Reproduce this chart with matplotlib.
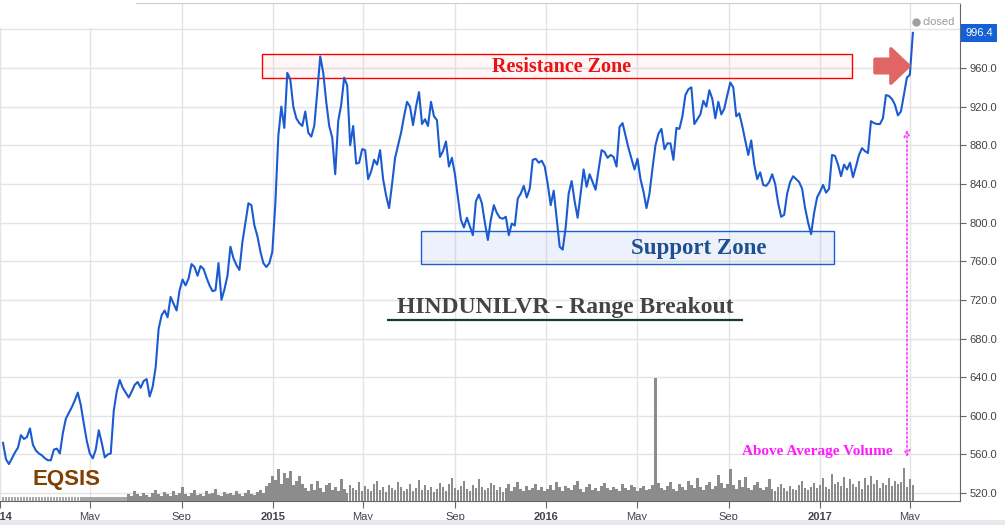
import matplotlib
matplotlib.use('Agg')
import matplotlib.pyplot as plt
from matplotlib.patches import Rectangle, FancyArrowPatch
from matplotlib.transforms import blended_transform_factory
import pandas as pd

plt.rcParams['font.family'] = ['Liberation Sans', 'DejaVu Sans']

# ---------------- data ----------------
first_date = '2014-01-05'
sample_step = '4D'

close_prices = [
    572, 555, 550, 556, 562, 567, 580, 576, 578, 587,
    570, 564, 561, 559, 556, 554, 554, 565, 566, 561,
    582, 597, 603, 609, 616, 624, 611, 592, 574, 561,
    556, 565, 585, 572, 557, 560, 561, 605, 625, 637,
    629, 624, 619, 625, 632, 635, 629, 636, 638, 620,
    630, 650, 690, 704, 709, 702, 723, 716, 709, 730,
    741, 735, 742, 757, 754, 745, 755, 752, 743, 735,
    729, 730, 758, 720, 731, 745, 775, 763, 756, 751,
    780, 800, 820, 818, 797, 786, 770, 758, 754, 758,
    770, 820, 890, 920, 898, 955, 948, 920, 908, 903,
    900, 915, 893, 889, 900, 935, 972, 955, 925, 900,
    888, 850, 905, 922, 950, 942, 880, 900, 861, 862,
    876, 875, 845, 853, 865, 860, 875, 845, 828, 815,
    840, 867, 880, 893, 910, 925, 920, 901, 920, 935,
    902, 907, 900, 925, 910, 906, 868, 874, 884, 858,
    867, 850, 826, 803, 795, 805, 796, 787, 822, 829,
    820, 800, 782, 803, 818, 810, 805, 804, 806, 787,
    799, 797, 825, 830, 838, 826, 835, 865, 866, 862,
    864, 858, 840, 818, 833, 804, 775, 772, 795, 830,
    843, 822, 805, 830, 855, 837, 850, 842, 834, 855,
    875, 873, 867, 870, 868, 858, 899, 903, 890, 877,
    866, 855, 866, 845, 832, 815, 830, 856, 880, 892,
    897, 876, 882, 882, 865, 898, 897, 910, 932, 938,
    940, 902, 907, 912, 926, 920, 937, 928, 908, 925,
    912, 918, 932, 945, 940, 910, 913, 900, 885, 870,
    885, 860, 845, 852, 839, 838, 842, 850, 840, 820,
    806, 808, 830, 842, 848, 845, 842, 835, 815, 800,
    788, 810, 826, 832, 839, 831, 835, 870, 869, 860,
    848, 860, 855, 862, 847, 858, 870, 877, 874, 872,
    905, 903, 902, 902, 908, 932, 931, 928, 922, 911,
    915, 932, 950, 953, 996.4,
]

# volume in millions of shares
volume_2014_h1 = [
    0.7, 0.7, 0.7, 0.7, 0.7, 0.7, 0.7, 0.7, 0.7, 0.7,
    0.7, 0.7, 0.7, 0.7, 0.7, 0.7, 0.7, 0.7, 0.7, 0.7,
    0.7, 0.7, 0.7, 0.7, 0.7, 0.7, 0.7, 0.7, 0.7, 0.7,
    0.7, 0.7, 0.7, 0.7, 0.7, 0.7, 0.7, 0.7, 0.7, 0.7,
    0.7, 0.7,
]
volume_2014_h2 = [
    1.2, 0.9, 1.6, 1.1, 0.8, 1.4, 1.0, 0.7, 1.3, 1.9,
    1.1, 0.9, 1.5, 1.2, 0.8, 1.7, 1.0, 1.3, 2.4, 1.1,
    0.9, 1.4, 1.8, 1.0, 1.2, 0.8, 1.6, 1.1, 1.3, 2.0,
    1.0, 0.9, 1.5, 1.2, 1.4, 1.0, 1.7, 1.1, 0.9, 1.3,
    1.8, 1.2, 1.0, 1.5, 1.9, 1.3,
]
volume_2015_start = [2.5, 3.0, 4.2, 3.5, 5.3, 2.8, 4.6, 3.9, 5.0, 2.6, 3.4, 4.1, 2.9]
volume_2015_2016 = [
    2.2, 1.6, 2.8, 1.9, 3.3, 2.1, 1.5, 2.6, 3.0, 1.8, 2.4, 1.7, 3.6, 2.0, 1.4, 2.7, 2.2, 1.9, 3.1, 1.6,
    2.5, 2.0, 1.7, 2.9, 3.4, 1.8, 2.3, 1.5, 2.6, 2.1, 1.9, 3.2, 2.4, 1.6, 2.0, 2.8, 1.7, 2.2, 3.5, 1.9,
    2.6, 1.8, 2.3, 1.5, 2.0, 3.0, 2.4, 1.7, 2.9, 3.8, 2.2, 1.9, 2.5, 3.3, 2.0, 1.6, 2.7, 2.1, 3.6, 2.4,
    1.8, 2.2, 3.0, 2.6, 1.9, 2.4, 1.5, 2.1, 2.8, 1.7, 2.3, 3.1, 2.0, 1.6, 2.5, 1.9, 2.2, 2.9, 1.8, 2.4,
    1.6, 2.0, 2.7, 1.9, 3.2, 2.3, 1.7, 2.5, 2.1, 1.8, 2.6, 3.4, 2.0, 1.5, 2.3, 2.8, 1.9, 2.2, 1.7, 2.5,
    3.0, 2.1, 1.8, 2.4, 2.0, 1.6, 2.9, 2.2, 1.9, 2.6, 2.3, 1.7, 2.1, 2.5, 1.8,
]
volume_spike = [2.0, 2.6, 20.5, 3.0]
volume_2016_2017 = [
    2.2, 1.8, 2.5, 3.1, 2.0, 1.7, 2.9, 2.4, 1.9, 3.3,
    2.6, 2.1, 3.8, 2.3, 1.8, 2.7, 3.2, 2.0, 2.5, 4.4,
    3.0, 2.2, 2.8, 5.3, 2.6, 2.0, 3.5, 2.4, 4.0, 2.1,
    1.9, 2.6, 3.1, 2.2, 1.8, 2.4, 3.6, 2.0, 1.7, 2.3,
    2.9, 2.1, 1.6, 2.5, 2.0, 1.8, 2.7, 3.3, 2.2, 1.9,
    2.4, 3.0, 2.1, 2.6, 3.8, 2.3, 2.0, 4.5, 2.8, 3.2,
    2.5, 4.0, 2.2, 3.6, 2.9, 2.4, 3.3, 2.0, 3.8, 2.6,
    4.2, 2.9, 3.5, 2.2, 3.0, 2.7, 3.9, 2.5, 3.3, 2.8,
    3.1, 5.5, 2.4, 3.6, 2.7,
]
volume_millions = (volume_2014_h1 + volume_2014_h2 + volume_2015_start
                   + volume_2015_2016 + volume_spike + volume_2016_2017)

tick_dates = ['2014-01-01', '2014-05-01', '2014-09-01', '2015-01-01', '2015-05-01',
              '2015-09-01', '2016-01-01', '2016-05-01', '2016-09-01', '2017-01-01',
              '2017-05-01']
tick_labels = ['2014', 'May', 'Sep', '2015', 'May', 'Sep', '2016', 'May', 'Sep', '2017', 'May']
price_ticks = [520, 560, 600, 640, 680, 720, 760, 800, 840, 880, 920, 960, 1000]

resistance_dates = ['2014-12-17', '2017-02-12']
resistance_prices = [949.6, 974.5]
support_dates = ['2015-07-18', '2017-01-19']
support_prices = [757.0, 791.3]
last_price = 996.4

# ---------------- figure ----------------
W, H = 1005, 525
fig = plt.figure(figsize=(W / 100, H / 100), dpi=100)
fig.patch.set_facecolor('white')
ax = fig.add_axes([0, 24 / H, 960 / W, 498 / H])
ax2 = ax.twinx()

dates = pd.date_range(first_date, periods=len(close_prices), freq=sample_step)
n = min(len(dates), len(volume_millions))
bar_colors = ['#a6a6a6' if i < len(volume_2014_h1) else '#8c8c8c' for i in range(n)]
ax2.bar(dates[:n], volume_millions[:n], width=3.5, color=bar_colors, linewidth=0)
ax2.set_ylim(0, 83)
ax2.axis('off')

ax.plot(dates, close_prices, color='#1a5bd1', lw=1.5, zorder=3)

ax.set_xlim(pd.Timestamp('2014-01-01 19:00'), pd.Timestamp('2017-07-07'))
ax.set_ylim(511.8, 1027.3)

ax.grid(True, color='#e4e4e4', lw=1)
ax.set_axisbelow(True)
ax.spines['left'].set_visible(False)
ax.spines['top'].set_color('#cfcfcf')
ax.spines['right'].set_color('#666666')
ax.spines['bottom'].set_color('#666666')

ax.yaxis.tick_right()
ax.set_yticks(price_ticks)
ax.set_yticklabels([f'{v:.1f}' if v < 1000 else '' for v in price_ticks])
ax.tick_params(axis='y', direction='out', length=4, color='#666666',
               labelcolor='#444444', labelsize=8, pad=3, left=False, right=True)

ax.set_xticks(pd.to_datetime(tick_dates))
ax.set_xticklabels(tick_labels)
ax.tick_params(axis='x', direction='out', length=5, color='#666666',
               labelcolor='#444444', labelsize=8, pad=3)
for lab in ax.get_xticklabels():
    if lab.get_text().isdigit():
        lab.set_fontweight('bold')

# zones
rx0, rx1 = pd.to_datetime(resistance_dates)
ax.add_patch(Rectangle((rx0, resistance_prices[0]), rx1 - rx0,
                       resistance_prices[1] - resistance_prices[0],
                       fc=(1, 0.2, 0.2, 0.04), ec='#ff0000', lw=1, zorder=2))
sx0, sx1 = pd.to_datetime(support_dates)
ax.add_patch(Rectangle((sx0, support_prices[0]), sx1 - sx0,
                       support_prices[1] - support_prices[0],
                       fc=(0.1, 0.35, 0.85, 0.08), ec='#1a5fd0', lw=1, zorder=2))

serif = ['Liberation Serif', 'DejaVu Serif']
tx = ax2.transAxes
ax2.text(561.5 / 960, 0.862, 'Resistance Zone', ha='center', va='baseline', family=serif,
         weight='bold', size=14.5, color='#ee1111', transform=tx)
ax2.text(698.5 / 960, 0.496, 'Support Zone', ha='center', va='baseline', family=serif,
         weight='bold', size=16.5, color='#1d4f91', transform=tx)
ax2.text(565 / 960, 0.3775, 'HINDUNILVR - Range Breakout', ha='center', va='baseline',
         family=serif, weight='bold', size=17, color='#444444', transform=tx)
ax2.plot([387 / 960, 743 / 960], [0.3635, 0.3635], transform=tx, color='#0f3d3a',
         lw=1.6, solid_capstyle='butt', clip_on=False)
ax2.text(817.5 / 960, 0.0924, 'Above Average Volume', ha='center', va='baseline',
         family=serif, weight='bold', size=11, color='#ff1aff', transform=tx)
ax2.text(66 / 960, 0.032, 'EQSIS', ha='center', va='baseline', weight='bold',
         size=16, color='#804000', transform=tx)

# red arrow
arr = FancyArrowPatch(posA=(875 / 960, 0.8735), posB=(909 / 960, 0.8735), transform=tx,
                      arrowstyle='simple,head_length=1.0,head_width=1.9,tail_width=0.75',
                      mutation_scale=13, color='#e06666', lw=2.5, joinstyle='round',
                      capstyle='round', shrinkA=0, shrinkB=0)
ax2.add_patch(arr)

# magenta dotted arrow
ax2.annotate('', xy=(907 / 960, 0.0884), xytext=(907 / 960, 0.745), xycoords='axes fraction',
             arrowprops=dict(arrowstyle='<->,head_length=0.4,head_width=0.2',
                             color='#ff33ff', ls=':', lw=1.2, shrinkA=0, shrinkB=0))

# last price label
bt = blended_transform_factory(ax.transAxes, ax.transData)
ax.text(965 / 960, last_price, f'{last_price:.1f}', transform=bt, color='white', size=8,
        va='center', ha='left', clip_on=False, zorder=10,
        bbox=dict(boxstyle='square,pad=0.35', fc='#1560d4', ec='none'))

# closed marker
ax2.plot([916 / 960], [0.9618], 'o', ms=5, color='#a0a0a0', transform=tx, clip_on=False)
ax2.text(922 / 960, 0.9618, 'closed', va='center', ha='left', size=8, color='#9a9a9a',
         transform=tx)

# frame artifacts
fig.add_artist(Rectangle((0, (H - 28) / H), 136 / W, 28 / H, transform=fig.transFigure,
                         fc='white', ec='none', zorder=20))
fig.add_artist(Rectangle((0, 0), 1, 5 / H, transform=fig.transFigure,
                         fc='#e6e9ed', ec='none', zorder=20))

fig.savefig('out.png', dpi=100)
